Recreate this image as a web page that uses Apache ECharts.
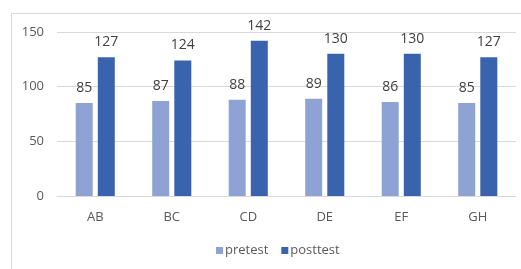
<!DOCTYPE html>
<html><head><meta charset="utf-8">
<script src="https://cdn.jsdelivr.net/npm/echarts@6/dist/echarts.min.js"></script>
<style>html,body{margin:0;padding:0;background:#fff}#c{width:521px;height:269px}</style>
</head><body><div id="c"></div>
<script>
const categories = ['AB','BC','CD','DE','EF','GH'];
const pretest = [85,87,88,89,86,85];
const posttest = [127,124,142,130,130,127];
const yTicks = [0,50,100,150];

const chart = echarts.init(document.getElementById('c'));
const font = '"Open Sans", "Liberation Sans", sans-serif';
chart.setOption({
  animation:false,
  graphic:[{type:'rect',shape:{x:11.5,y:13.5,width:520,height:270},style:{fill:'none',stroke:'#d9d9d9',lineWidth:1},silent:true}],
  grid:{left:57,right:5,top:32,bottom:73,containLabel:false},
  legend:{bottom:7,left:211,itemWidth:7,itemHeight:7,itemGap:13,icon:'rect',
    textStyle:{color:'#595959',fontSize:13,fontFamily:font,padding:[0,0,0,-3]},
    data:['pretest','posttest']},
  xAxis:{type:'category',data:categories,axisTick:{show:false},
    axisLine:{lineStyle:{color:'#d9d9d9',width:1}},
    axisLabel:{color:'#595959',fontSize:13,fontFamily:font,margin:15}},
  yAxis:{type:'value',min:0,max:150,interval:50,
    axisLine:{show:false},axisTick:{show:false},
    splitLine:{lineStyle:{color:'#d9d9d9',width:1}},
    axisLabel:{color:'#595959',fontSize:13,fontFamily:font,margin:13}},
  series:[
    {name:'pretest',type:'bar',data:pretest,barWidth:17,barGap:'30%',
      itemStyle:{color:'#8fa2d4'},
      label:{show:true,position:'top',color:'#404040',fontSize:14,fontFamily:font,distance:8}},
    {name:'posttest',type:'bar',data:posttest,barWidth:17,
      itemStyle:{color:'#3a63ad'},
      label:{show:true,position:'top',color:'#404040',fontSize:14,fontFamily:font,distance:8}}
  ]
});
</script></body></html>
